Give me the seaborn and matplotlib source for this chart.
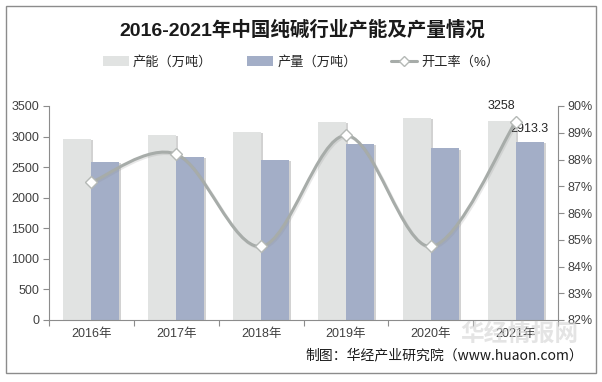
import numpy as np
import pandas as pd
import seaborn as sns
import matplotlib.pyplot as plt
from matplotlib.path import Path
from matplotlib.patches import PathPatch, Rectangle
from matplotlib.lines import Line2D
from matplotlib import patheffects as pe

years = ["2016年", "2017年", "2018年", "2019年", "2020年", "2021年"]
capacity = [2960, 3025, 3075, 3240, 3305, 3258]
output = [2588, 2665, 2620, 2885, 2805, 2913.3]
rate = [87.15, 88.2, 84.75, 88.9, 84.75, 89.4]
series_names = ["产能（万吨）", "产量（万吨）"]
rate_name = "开工率（%）"

C_CAP = "#E1E3E2"
C_OUT = "#A3AEC7"
C_LINE = "#A7ACA9"
C_AXIS = "#8C8C8C"
C_TEXT = "#404040"

sns.set_style("white")
plt.rcParams["font.family"] = ["Liberation Sans", "Noto Sans CJK SC"]

df = pd.DataFrame({
    "year": years * 2,
    "value": capacity + output,
    "series": [series_names[0]] * 6 + [series_names[1]] * 6,
})

fig = plt.figure(figsize=(6.02, 3.82), dpi=100)
ax = fig.add_axes([49 / 602, 1 - 320 / 382, 509 / 602, 214 / 382])

sns.barplot(data=df, x="year", y="value", hue="series", hue_order=series_names,
            palette=[C_CAP, C_OUT], width=0.66, saturation=1, ax=ax, legend=False)
shadow = [pe.SimplePatchShadow(offset=(1.5, -1), shadow_rgbFace="#808080", alpha=0.35), pe.Normal()]
for p in ax.patches:
    p.set_path_effects(shadow)
    p.set_edgecolor("none")

ax.set_xlim(-0.5, 5.5)
ax.set_ylim(0, 3500)
ax.set_yticks(range(0, 3501, 500))
ax.set_xlabel("")
ax.set_ylabel("")
ax.set_xticks(np.arange(-0.5, 6, 1), minor=False)
ax.set_xticklabels([])
ax.set_xticks(range(6), minor=True)
ax.set_xticklabels(years, minor=True)
ax.tick_params(axis="x", which="major", length=4, color=C_AXIS, direction="out")
ax.tick_params(axis="x", which="minor", length=0, labelsize=9, labelcolor=C_TEXT, pad=6)
ax.tick_params(axis="y", length=4, color=C_AXIS, direction="out", labelsize=9, labelcolor=C_TEXT, pad=3)
for s in ["top", "right"]:
    ax.spines[s].set_visible(False)
for s in ["left", "bottom"]:
    ax.spines[s].set_color(C_AXIS)
ax.yaxis.tick_left()
ax.xaxis.tick_bottom()

# data labels on the last year
ax.annotate(f"{capacity[-1]:g}", (5 - 0.165, capacity[-1]), xytext=(0, 6),
            textcoords="offset points", ha="center", va="bottom", fontsize=9, color="#262626")
ax.annotate(f"{output[-1]:g}", (5 + 0.165, output[-1]), xytext=(0, 5),
            textcoords="offset points", ha="center", va="bottom", fontsize=9, color="#262626")

# rate line on right axis, smoothed like an Excel chart
ax2 = ax.twinx()
ax2.set_ylim(82, 90)
ax2.set_yticks(range(82, 91))
ax2.set_yticklabels([f"{v}%" for v in range(82, 91)])
ax2.tick_params(axis="y", length=4, color=C_AXIS, direction="out", labelsize=9, labelcolor=C_TEXT, pad=3)
for s in ["top", "left", "bottom"]:
    ax2.spines[s].set_visible(False)
ax2.spines["right"].set_color(C_AXIS)

pts = np.column_stack([np.arange(6), rate])
verts = [pts[0]]
codes = [Path.MOVETO]
for i in range(len(pts) - 1):
    p0 = pts[max(i - 1, 0)]
    p1, p2 = pts[i], pts[i + 1]
    p3 = pts[min(i + 2, len(pts) - 1)]
    verts += [p1 + (p2 - p0) / 6, p2 - (p3 - p1) / 6, p2]
    codes += [Path.CURVE4] * 3
curve = PathPatch(Path(verts, codes), facecolor="none", edgecolor=C_LINE, lw=2.2,
                  path_effects=[pe.SimpleLineShadow(offset=(1, -1), shadow_color="#909090", alpha=0.2),
                                pe.Normal()])
ax2.add_patch(curve)
ax2.plot(range(6), rate, ls="none", marker="D", ms=6.5, mfc="white", mec="#B5B9B6", mew=1, zorder=5)

# legend
handles = [Rectangle((0, 0), 1, 1, fc=C_CAP, ec="none"),
           Rectangle((0, 0), 1, 1, fc=C_OUT, ec="none"),
           Line2D([], [], color=C_LINE, lw=2.2, marker="D", ms=5, mfc="white", mec="#B5B9B6")]
fig.legend(handles, series_names + [rate_name], loc="center", bbox_to_anchor=(0.5, 1 - 62 / 382),
           ncol=3, frameon=False, fontsize=9.5, handlelength=2.0, handleheight=0.8,
           handletextpad=0.3, columnspacing=2.6, labelcolor="#262626")

fig.text(0.502, 1 - 30 / 382, "2016-2021年中国纯碱行业产能及产量情况", ha="center", va="center",
         fontsize=14, fontweight="bold", color="#1a1a1a")

# watermark
fig.text(0.96, 1 - 334 / 382, "华经情报网", ha="right", va="center", fontsize=17,
         fontweight="bold", color="#d2d2d2", alpha=0.6, family="Noto Sans CJK SC", zorder=0)

fig.text(0.968, 1 - 355 / 382, "制图：华经产业研究院（www.huaon.com）", ha="right", va="center",
         fontsize=10, color="#1a1a1a", family=["Noto Sans CJK SC"])

fig.patches.append(Rectangle((6 / 602, 1 - 373 / 382), 590 / 602, 367 / 382,
                             transform=fig.transFigure, fill=False, ec="#8C8C8C", lw=1))

fig.savefig("out.png", dpi=100)
